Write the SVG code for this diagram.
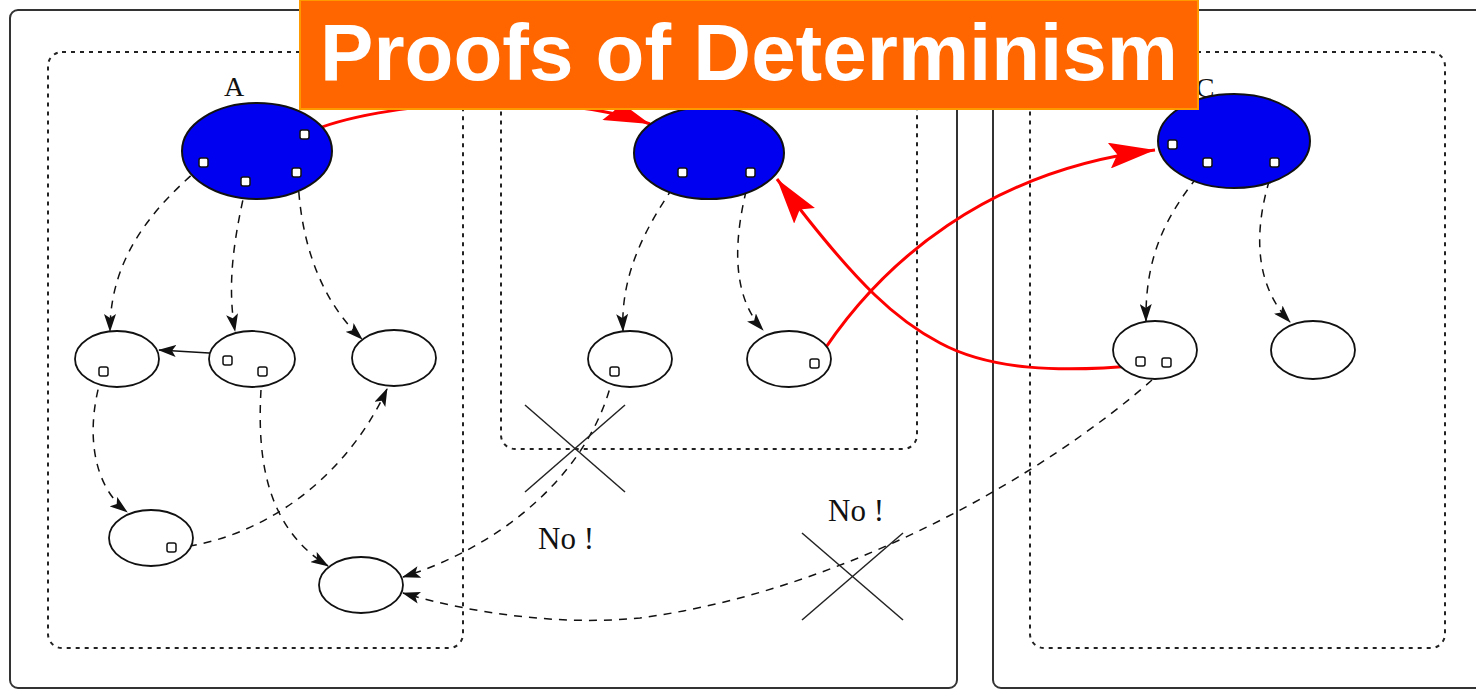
<svg xmlns="http://www.w3.org/2000/svg" width="1476" height="690" viewBox="0 0 1476 690">
<style>
.outer{fill:none;stroke:#333;stroke-width:2}
.inner{fill:none;stroke:#222;stroke-width:2;stroke-dasharray:4 5}
.blue{fill:#0000f0;stroke:#111;stroke-width:2}
.white{fill:#fff;stroke:#111;stroke-width:1.8}
.port{fill:#fff;stroke:#111;stroke-width:1.5}
.dash{fill:none;stroke:#111;stroke-width:1.5;stroke-dasharray:8 7;marker-end:url(#ab)}
.solid{fill:none;stroke:#111;stroke-width:1.5;marker-end:url(#ab)}
.red{fill:none;stroke:#ff0000;stroke-width:3;marker-end:url(#ar)}
.x{stroke:#222;stroke-width:1.5}
.lbl{font-family:"Liberation Serif",serif;fill:#111}
</style>
<defs>
<marker id="ab" markerUnits="userSpaceOnUse" markerWidth="18" markerHeight="12" refX="17" refY="6" orient="auto">
<path d="M0,0 L18,6 L0,12 L4,6 z" fill="#111"/>
</marker>
<marker id="ar" markerUnits="userSpaceOnUse" markerWidth="46" markerHeight="26" refX="46" refY="13" orient="auto">
<path d="M0,0 L46,13 L0,26 L8,13 z" fill="#ff0000"/>
</marker>
</defs>
<rect width="1476" height="690" fill="#fff"/>
<g id="frames">
<rect class="outer" x="10" y="10" width="947" height="678" rx="8"/>
<rect class="outer" x="993" y="10" width="500" height="678" rx="8"/>
<rect class="inner" x="48" y="52" width="415" height="596" rx="14"/>
<rect class="inner" x="501" y="52" width="416" height="397" rx="14"/>
<rect class="inner" x="1030" y="52" width="415" height="596" rx="14"/>
</g>
<g id="connectors">
<path class="dash" d="M202 166 C150 210 110 260 110 331"/>
<path class="dash" d="M246 186 C236 230 226 280 235 331"/>
<path class="dash" d="M298 177 C300 240 320 300 362 339"/>
<path class="solid" d="M228 361 L209 353 L159 350"/>
<path class="dash" d="M102 375 C85 430 92 485 127 512"/>
<path class="dash" d="M262 375 C256 450 262 525 328 566"/>
<path class="dash" d="M174 548 C260 540 345 480 387 389"/>
<path class="dash" d="M681 176 C650 220 620 270 623 331"/>
<path class="dash" d="M750 176 C735 230 728 292 763 330"/>
<path class="dash" d="M1206 166 C1170 210 1145 250 1146 321"/>
<path class="dash" d="M1274 166 C1255 220 1250 280 1290 322"/>
<path class="dash" d="M613 376 C592 470 505 545 403 577"/>
<path class="dash" d="M1152 380 C1050 470 850 590 640 618 C560 626 470 613 403 593"/>
<path class="red" d="M307 133 C380 100 560 90 650 124"/>
<path class="red" d="M815 364 C880 260 990 170 1155 150"/>
<path class="red" d="M1141 365 C1060 373 990 370 940 343 C900 322 860 290 777 179"/>
</g>
<g id="nodeA">
<text class="lbl" x="234" y="96" font-size="28" text-anchor="middle">A</text>
<ellipse class="blue" cx="257" cy="151" rx="75" ry="48"/>
<rect class="port" x="300" y="130" width="9" height="9" rx="2"/>
<rect class="port" x="199" y="158" width="9" height="9" rx="2"/>
<rect class="port" x="241" y="177" width="9" height="9" rx="2"/>
<rect class="port" x="292" y="168" width="9" height="9" rx="2"/>
</g>
<g id="nodeB">
<ellipse class="blue" cx="709" cy="153" rx="75" ry="46"/>
<rect class="port" x="678" y="168" width="9" height="9" rx="2"/>
<rect class="port" x="746" y="168" width="9" height="9" rx="2"/>
</g>
<g id="nodeC">
<text class="lbl" x="1205" y="97" font-size="28" text-anchor="middle">C</text>
<ellipse class="blue" cx="1234" cy="141" rx="76" ry="47"/>
<rect class="port" x="1168" y="140" width="9" height="9" rx="2"/>
<rect class="port" x="1203" y="158" width="9" height="9" rx="2"/>
<rect class="port" x="1270" y="158" width="9" height="9" rx="2"/>
</g>
<g id="a1"><ellipse class="white" cx="117" cy="359" rx="42" ry="28"/><rect class="port" x="99" y="367" width="9" height="9" rx="2"/></g>
<g id="a2"><ellipse class="white" cx="252" cy="359" rx="43" ry="28"/><rect class="port" x="223" y="356" width="9" height="9" rx="2"/><rect class="port" x="258" y="367" width="9" height="9" rx="2"/></g>
<g id="a3"><ellipse class="white" cx="394" cy="358" rx="42" ry="28"/></g>
<g id="a4"><ellipse class="white" cx="151" cy="538" rx="42" ry="28"/><rect class="port" x="167" y="543" width="9" height="9" rx="2"/></g>
<g id="a5"><ellipse class="white" cx="361" cy="585" rx="42" ry="28"/></g>
<g id="b1"><ellipse class="white" cx="630" cy="359" rx="42" ry="28"/><rect class="port" x="610" y="367" width="9" height="9" rx="2"/></g>
<g id="b2"><ellipse class="white" cx="789" cy="359" rx="42" ry="28"/><rect class="port" x="810" y="359" width="9" height="9" rx="2"/></g>
<g id="c1"><ellipse class="white" cx="1155" cy="350" rx="42" ry="29"/><rect class="port" x="1136" y="357" width="9" height="9" rx="2"/><rect class="port" x="1162" y="358" width="9" height="9" rx="2"/></g>
<g id="c2"><ellipse class="white" cx="1313" cy="350" rx="42" ry="29"/></g>
<g id="marks">
<line class="x" x1="525" y1="405" x2="625" y2="492"/>
<line class="x" x1="625" y1="405" x2="525" y2="492"/>
<line class="x" x1="802" y1="533" x2="903" y2="620"/>
<line class="x" x1="903" y1="533" x2="802" y2="620"/>
<text class="lbl" x="538" y="549" font-size="31">No !</text>
<text class="lbl" x="828" y="521" font-size="31">No !</text>
</g>
<g id="title">
<rect x="300" y="0" width="898" height="109" fill="#ff6600" stroke="#ff9900" stroke-width="2"/>
<text x="749" y="80" font-family="'Liberation Sans',Arial,sans-serif" font-weight="bold" font-size="80" fill="#fff" text-anchor="middle">Proofs of Determinism</text>
</g>
</svg>
